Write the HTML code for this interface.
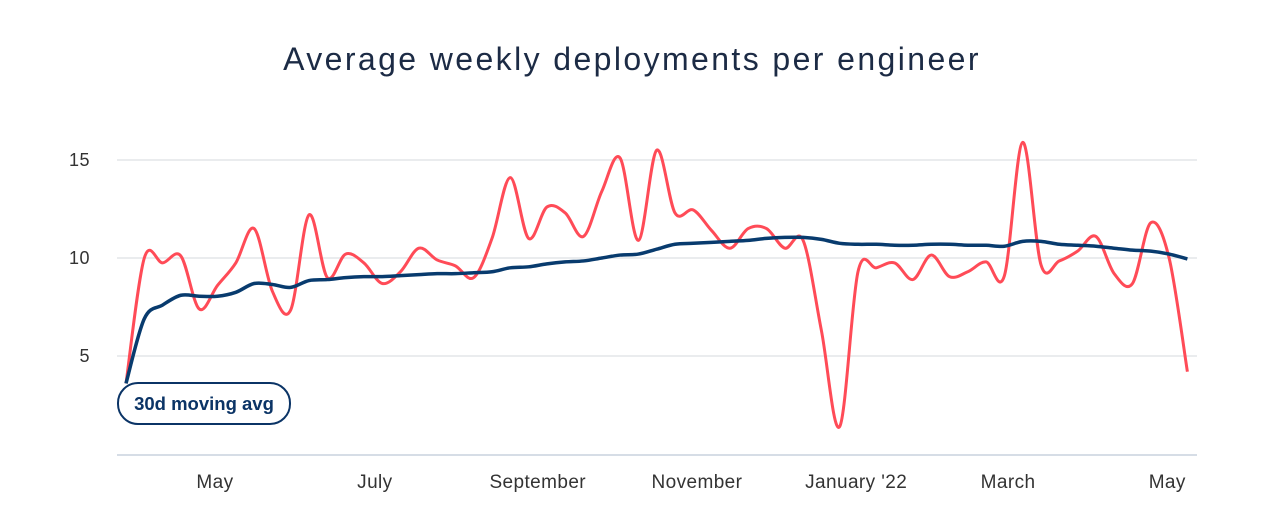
<!DOCTYPE html>
<html><head><meta charset="utf-8"><style>
body{margin:0;background:#fff;width:1280px;height:523px;overflow:hidden;font-family:"Liberation Sans",sans-serif}
</style></head><body>
<svg id="c" width="1280" height="523" xmlns="http://www.w3.org/2000/svg">
<text x="632" y="70" text-anchor="middle" font-size="32" letter-spacing="2.4" fill="#1c2b45">Average weekly deployments per engineer</text>
<g id="grid"></g><g id="series"></g><g id="xaxis"></g>
<g>
<rect x="118" y="383" width="172" height="41" rx="20" fill="#fff" stroke="#0b3466" stroke-width="2"/>
<text x="204" y="410" text-anchor="middle" font-size="18.5" font-weight="bold" fill="#0b3466">30d moving avg</text>
</g>
</svg>
<script>
const weeklyValues=[3.6,10.0,9.75,10.1,7.4,8.6,9.75,11.5,8.3,7.35,12.2,9.0,10.2,9.75,8.7,9.3,10.5,9.9,9.6,9.0,11.0,14.1,11.0,12.6,12.3,11.1,13.4,15.1,10.9,15.5,12.3,12.45,11.4,10.5,11.5,11.5,10.5,10.9,6.3,1.4,9.3,9.5,9.75,8.9,10.15,9.05,9.3,9.8,9.1,15.9,9.65,9.85,10.35,11.1,9.2,8.7,11.8,10.0,4.2];
const movingAvg=[3.6,6.9,7.6,8.1,8.05,8.05,8.25,8.7,8.65,8.5,8.85,8.9,9.0,9.05,9.05,9.1,9.15,9.2,9.2,9.25,9.3,9.5,9.55,9.7,9.8,9.85,10.0,10.15,10.2,10.45,10.7,10.75,10.8,10.85,10.9,11.0,11.05,11.05,10.95,10.75,10.7,10.7,10.65,10.65,10.7,10.7,10.65,10.65,10.6,10.85,10.85,10.7,10.65,10.6,10.5,10.4,10.35,10.2,9.95];
const yTicks=[5,10,15];
const monthLabels=["May","July","September","November","January '22","March","May"];
const monthWeekPos=[4.86,13.6,22.5,31.2,39.9,48.2,56.9];
const NS="http://www.w3.org/2000/svg";
const x=i=>126+i*18.3;
const y=v=>454-v*19.6;
function mk(tag,attrs,parent){const e=document.createElementNS(NS,tag);for(const k in attrs)e.setAttribute(k,attrs[k]);parent.appendChild(e);return e;}
const grid=document.getElementById('grid');
yTicks.forEach(t=>{
 const l=mk('line',{x1:117,x2:1197,y1:y(t),y2:y(t),stroke:'#e3e5e8','stroke-width':1.5},grid);
 
 
 const tx=mk('text',{x:90,y:y(t)+6,'text-anchor':'end','font-size':18,'letter-spacing':0.5,fill:'#333'},grid);
 tx.textContent=t;
 
 
});
const base=mk('line',{x1:117,x2:1197,y1:455,y2:455,stroke:'#c9d2dd','stroke-width':1.5},grid);


const xa=document.getElementById('xaxis');
monthLabels.forEach((m,i)=>{
 const t=mk('text',{x:x(monthWeekPos[i]),y:488,'text-anchor':'middle','font-size':19,'letter-spacing':0.4,fill:'#333'},xa);
 t.textContent=m;
 
 
});
function path(vals){
 const p=vals.map((v,i)=>[x(i),y(v)]);
 let d='M'+p[0][0]+','+p[0][1];
 for(let i=0;i<p.length-1;i++){
  const p0=p[Math.max(0,i-1)],p1=p[i],p2=p[i+1],p3=p[Math.min(p.length-1,i+2)];
  const k=1/6;
  d+=' C'+(p1[0]+(p2[0]-p0[0])*k)+','+(p1[1]+(p2[1]-p0[1])*k)+' '+(p2[0]-(p3[0]-p1[0])*k)+','+(p2[1]-(p3[1]-p1[1])*k)+' '+p2[0]+','+p2[1];
 }
 return d;
}
const s=document.getElementById('series');
const r=mk('path',{d:path(weeklyValues),fill:'none',stroke:'#ff4b57','stroke-width':3,'stroke-linejoin':'round'},s);


const b=mk('path',{d:path(movingAvg),fill:'none',stroke:'#083b6e','stroke-width':3.5,'stroke-linejoin':'round'},s);


</script>
</body></html>
